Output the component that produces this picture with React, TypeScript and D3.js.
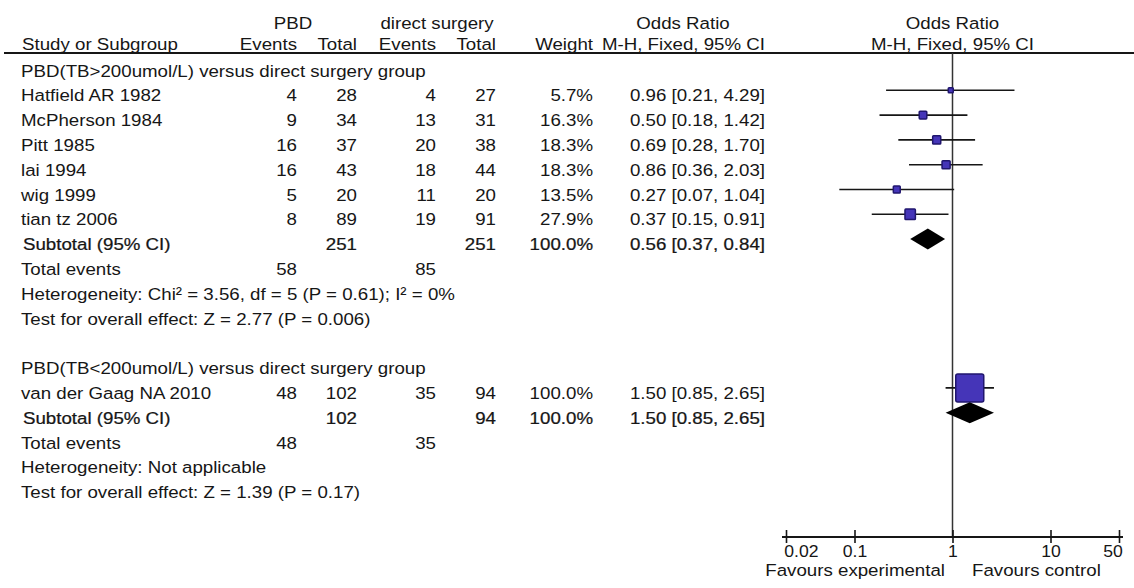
import React, { useEffect, useRef } from "react";
import * as d3 from "d3";

// ---- Data -------------------------------------------------------------
const group1Title = "PBD(TB>200umol/L) versus direct surgery group";
const group1Studies = ["Hatfield AR 1982", "McPherson 1984", "Pitt 1985", "lai 1994", "wig 1999", "tian tz 2006"];
const group1PbdEvents = [4, 9, 16, 16, 5, 8];
const group1PbdTotal = [28, 34, 37, 43, 20, 89];
const group1DsEvents = [4, 13, 20, 18, 11, 19];
const group1DsTotal = [27, 31, 38, 44, 20, 91];
const group1Weight = [5.7, 16.3, 18.3, 18.3, 13.5, 27.9];
const group1OR = [0.96, 0.5, 0.69, 0.86, 0.27, 0.37];
const group1Lo = [0.21, 0.18, 0.28, 0.36, 0.07, 0.15];
const group1Hi = [4.29, 1.42, 1.7, 2.03, 1.04, 0.91];
const group1Subtotal = { pbdTotal: 251, dsTotal: 251, weight: 100.0, or: 0.56, lo: 0.37, hi: 0.84 };
const group1Events = { pbd: 58, ds: 85 };
const group1Heterogeneity = "Heterogeneity: Chi\u00B2 = 3.56, df = 5 (P = 0.61); I\u00B2 = 0%";
const group1Overall = "Test for overall effect: Z = 2.77 (P = 0.006)";

const group2Title = "PBD(TB<200umol/L) versus direct surgery group";
const group2Studies = ["van der Gaag NA 2010"];
const group2PbdEvents = [48];
const group2PbdTotal = [102];
const group2DsEvents = [35];
const group2DsTotal = [94];
const group2Weight = [100.0];
const group2OR = [1.5];
const group2Lo = [0.85];
const group2Hi = [2.65];
const group2Subtotal = { pbdTotal: 102, dsTotal: 94, weight: 100.0, or: 1.5, lo: 0.85, hi: 2.65 };
const group2Events = { pbd: 48, ds: 35 };
const group2Heterogeneity = "Heterogeneity: Not applicable";
const group2Overall = "Test for overall effect: Z = 1.39 (P = 0.17)";

const axisTicks = [0.02, 0.1, 1, 10, 50];
const axisTickLabels = ["0.02", "0.1", "1", "10", "50"];
const favoursLeft = "Favours experimental";
const favoursRight = "Favours control";

// ---- Layout ------------------------------------------------------------
const W = 1134;
const H = 588;
const FONT = "'Liberation Sans', Arial, sans-serif";
const FS = 17;
const SX = 1.1; // horizontal stretch of the table type
const INK = "#161616";

const COL = {
  name: 21,
  pbdEvents: 297,
  pbdTotal: 357,
  dsEvents: 436,
  dsTotal: 496,
  weight: 593,
  ci: 765,
};

const fmt2 = d3.format(".2f");
const fmtW = (w: number) => d3.format(".1f")(w) + "%";
const ciText = (or: number, lo: number, hi: number) => `${fmt2(or)} [${fmt2(lo)}, ${fmt2(hi)}]`;

type TProps = {
  x: number;
  y: number;
  anchor?: "start" | "middle" | "end";
  bold?: boolean;
  children: React.ReactNode;
};

// y is the vertical centre of the text row
const T = ({ x, y, anchor = "start", bold = false, children }: TProps) => (
  <text
    transform={`translate(${x},${y + 6}) scale(${SX},1)`}
    textAnchor={anchor}
    fontFamily={FONT}
    fontSize={FS}
    fill={INK}
    stroke={bold ? INK : "none"}
    strokeWidth={bold ? 0.25 : 0}
  >
    {children}
  </text>
);

export default function App() {
  const axisRef = useRef<SVGGElement>(null);

  // row index -> row centre
  const rowY = d3.scaleLinear().domain([0, 1]).range([70.5, 95.3]);
  // odds ratio -> x
  const x = d3.scaleLog().domain([0.02, 50]).range([786, 1119]);
  // weight (%) -> square side
  const boxSize = d3.scaleLinear().domain([0, 100]).range([3.6, 28]);
  const markOffset = -5;
  const axisY = 537;
  const headerLineY = 53;

  useEffect(() => {
    if (!axisRef.current) return;
    const g = d3.select(axisRef.current);
    g.selectAll("*").remove();
    const axis = d3
      .axisBottom(x)
      .tickValues(axisTicks)
      .tickFormat((_d, i) => axisTickLabels[i])
      .tickSizeOuter(0)
      .tickSizeInner(6)
      .tickPadding(8);
    g.call(axis as any);
    g.attr("font-family", FONT).attr("font-size", 16);
    g.select(".domain").attr("stroke", INK).attr("stroke-width", 1.8).attr("d", `M${x.range()[0] - 4},0H${x.range()[1] + 4}`);
    g.selectAll(".tick line").attr("stroke", INK).attr("stroke-width", 1.6).attr("y1", -7).attr("y2", 6);
    g.selectAll<SVGTextElement, number>(".tick text")
      .attr("fill", INK)
      .attr("dy", null)
      .attr("y", 20)
      .attr("transform", `scale(${SX},1)`)
      .attr("text-anchor", (_d, i) => (i === 0 ? "start" : i === axisTicks.length - 1 ? "end" : "middle"))
      .attr("x", (_d, i) => (i === 0 ? -2 : i === axisTicks.length - 1 ? 3 : 0));
  }, []);

  const studyRows = (
    names: string[],
    pe: number[],
    pt: number[],
    de: number[],
    dt: number[],
    wt: number[],
    or: number[],
    lo: number[],
    hi: number[],
    startRow: number
  ) =>
    names.map((n, i) => {
      const cy = rowY(startRow + i);
      const my = cy + markOffset;
      const s = boxSize(wt[i]);
      return (
        <g key={n}>
          <T x={COL.name} y={cy}>{n}</T>
          <T x={COL.pbdEvents} y={cy} anchor="end">{pe[i]}</T>
          <T x={COL.pbdTotal} y={cy} anchor="end">{pt[i]}</T>
          <T x={COL.dsEvents} y={cy} anchor="end">{de[i]}</T>
          <T x={COL.dsTotal} y={cy} anchor="end">{dt[i]}</T>
          <T x={COL.weight} y={cy} anchor="end">{fmtW(wt[i])}</T>
          <T x={COL.ci} y={cy} anchor="end">{ciText(or[i], lo[i], hi[i])}</T>
          <line x1={x(lo[i])} x2={x(hi[i])} y1={my} y2={my} stroke={INK} strokeWidth={1.6} />
          <rect
            x={x(or[i]) - s / 2}
            y={my - s / 2}
            width={s}
            height={s}
            rx={s > 12 ? 2 : 0.8}
            fill="#4535b8"
            stroke="#20166e"
            strokeWidth={1.5}
          />
        </g>
      );
    });

  const subtotalRow = (sub: typeof group1Subtotal, row: number) => {
    const cy = rowY(row);
    const my = cy + markOffset;
    const h = 10.5;
    const d = `M${x(sub.lo)},${my}L${x(sub.or)},${my - h}L${x(sub.hi)},${my}L${x(sub.or)},${my + h}Z`;
    return (
      <g>
        <T x={COL.name + 2} y={cy} bold>Subtotal (95% CI)</T>
        <T x={COL.pbdTotal} y={cy} anchor="end" bold>{sub.pbdTotal}</T>
        <T x={COL.dsTotal} y={cy} anchor="end" bold>{sub.dsTotal}</T>
        <T x={COL.weight} y={cy} anchor="end" bold>{fmtW(sub.weight)}</T>
        <T x={COL.ci} y={cy} anchor="end" bold>{ciText(sub.or, sub.lo, sub.hi)}</T>
        <path d={d} fill="#000" />
      </g>
    );
  };

  const footerRows = (ev: { pbd: number; ds: number }, het: string, overall: string, row: number) => (
    <g>
      <T x={COL.name} y={rowY(row)}>Total events</T>
      <T x={COL.pbdEvents} y={rowY(row)} anchor="end">{ev.pbd}</T>
      <T x={COL.dsEvents} y={rowY(row)} anchor="end">{ev.ds}</T>
      <T x={COL.name} y={rowY(row + 1)}>{het}</T>
      <T x={COL.name} y={rowY(row + 2)}>{overall}</T>
    </g>
  );

  const hdr1 = 23;
  const hdr2 = 43.5;

  return (
    <svg
      width={W}
      height={H}
      viewBox={`0 0 ${W} ${H}`}
      style={{ position: "absolute", left: 0, top: 0, background: "#fff" }}
    >
      <rect width={W} height={H} fill="#fff" />

      {/* column headers */}
      <T x={293} y={hdr1} anchor="middle">PBD</T>
      <T x={437} y={hdr1} anchor="middle">direct surgery</T>
      <T x={683} y={hdr1} anchor="middle">Odds Ratio</T>
      <T x={x(1)} y={hdr1} anchor="middle">Odds Ratio</T>
      <T x={COL.name + 1} y={hdr2}>Study or Subgroup</T>
      <T x={COL.pbdEvents} y={hdr2} anchor="end">Events</T>
      <T x={COL.pbdTotal} y={hdr2} anchor="end">Total</T>
      <T x={COL.dsEvents} y={hdr2} anchor="end">Events</T>
      <T x={COL.dsTotal} y={hdr2} anchor="end">Total</T>
      <T x={COL.weight} y={hdr2} anchor="end">Weight</T>
      <T x={COL.ci} y={hdr2} anchor="end">M-H, Fixed, 95% CI</T>
      <T x={x(1)} y={hdr2} anchor="middle">M-H, Fixed, 95% CI</T>
      <line x1={4} x2={W} y1={headerLineY} y2={headerLineY} stroke={INK} strokeWidth={1.8} />

      {/* line of no effect */}
      <line x1={x(1)} x2={x(1)} y1={headerLineY} y2={axisY} stroke="#333" strokeWidth={1.5} />

      {/* group 1 */}
      <T x={COL.name} y={rowY(0)}>{group1Title}</T>
      {studyRows(group1Studies, group1PbdEvents, group1PbdTotal, group1DsEvents, group1DsTotal, group1Weight, group1OR, group1Lo, group1Hi, 1)}
      {subtotalRow(group1Subtotal, 7)}
      {footerRows(group1Events, group1Heterogeneity, group1Overall, 8)}

      {/* group 2 */}
      <T x={COL.name} y={rowY(12)}>{group2Title}</T>
      {studyRows(group2Studies, group2PbdEvents, group2PbdTotal, group2DsEvents, group2DsTotal, group2Weight, group2OR, group2Lo, group2Hi, 13)}
      {subtotalRow(group2Subtotal, 14)}
      {footerRows(group2Events, group2Heterogeneity, group2Overall, 15)}

      {/* axis */}
      <g ref={axisRef} transform={`translate(0,${axisY})`} />
      <T x={945} y={570} anchor="end">{favoursLeft}</T>
      <T x={972} y={570}>{favoursRight}</T>
    </svg>
  );
}
